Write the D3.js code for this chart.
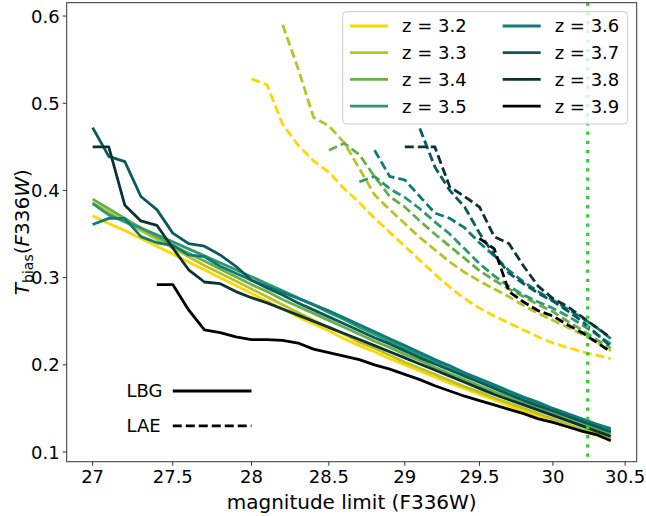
<!DOCTYPE html>
<html><head><meta charset="utf-8">
<script src="https://cdn.jsdelivr.net/npm/d3@7"></script>
<style>body{margin:0;background:#fff}svg text{font-family:"DejaVu Sans",sans-serif;fill:#000}</style>
</head><body>
<svg id="c" width="646" height="516"></svg>
<script>
// ---------------- data ----------------
const mags = [27.0,27.1,27.2,27.3,27.4,27.5,27.6,27.7,27.8,27.9,28.0,28.1,28.2,28.3,28.4,28.5,28.6,28.7,28.8,28.9,29.0,29.1,29.2,29.3,29.4,29.5,29.6,29.7,29.8,29.9,30.0,30.1,30.2,30.3,30.4];
const redshifts = ["3.2","3.3","3.4","3.5","3.6","3.7","3.8","3.9"];
const colors = ["#ffd700","#b8c326","#6aae48","#2b9870","#0d7b79","#0b5a5b","#0b3333","#000000"];

// LBG (solid)
const lbg32 = [0.371,0.362,0.354,0.345,0.336,0.327,0.318,0.309,0.300,0.291,0.282,0.273,0.264,0.255,0.247,0.239,0.230,0.222,0.215,0.207,0.200,0.193,0.186,0.179,0.173,0.166,0.160,0.153,0.147,0.141,0.136,0.130,0.124,0.119,0.114];
const lbg33 = [0.386,0.375,0.364,0.354,0.344,0.334,0.324,0.314,0.305,0.296,0.287,0.278,0.269,0.260,0.251,0.243,0.235,0.226,0.219,0.211,0.203,0.196,0.189,0.182,0.175,0.169,0.162,0.156,0.150,0.144,0.138,0.132,0.126,0.121,0.116];
const lbg34 = [0.390,0.379,0.368,0.357,0.347,0.337,0.328,0.319,0.310,0.301,0.292,0.284,0.275,0.267,0.259,0.251,0.243,0.235,0.227,0.220,0.212,0.205,0.197,0.190,0.183,0.176,0.169,0.163,0.156,0.150,0.144,0.138,0.132,0.126,0.121];
const lbg35 = [0.385,0.372,0.364,0.357,0.349,0.341,0.333,0.325,0.317,0.309,0.301,0.293,0.285,0.277,0.269,0.260,0.252,0.243,0.235,0.227,0.219,0.211,0.204,0.196,0.189,0.182,0.175,0.168,0.161,0.155,0.148,0.142,0.136,0.130,0.125];
const lbg36 = [0.361,0.368,0.368,0.347,0.340,0.337,0.326,0.324,0.313,0.305,0.297,0.290,0.283,0.276,0.269,0.262,0.254,0.246,0.238,0.230,0.222,0.214,0.206,0.199,0.191,0.184,0.177,0.170,0.163,0.157,0.150,0.144,0.138,0.132,0.127];
const lbg37 = [0.472,0.439,0.433,0.393,0.378,0.351,0.339,0.336,0.326,0.313,0.297,0.288,0.280,0.271,0.263,0.255,0.247,0.239,0.231,0.224,0.216,0.208,0.201,0.194,0.187,0.180,0.173,0.166,0.159,0.153,0.147,0.141,0.135,0.129,0.123];
const lbg38 = [0.450,0.450,0.383,0.365,0.360,0.334,0.309,0.295,0.293,0.284,0.277,0.271,0.264,0.257,0.250,0.243,0.236,0.229,0.222,0.215,0.208,0.201,0.194,0.187,0.180,0.173,0.166,0.160,0.154,0.148,0.142,0.136,0.130,0.124,0.118];
const lbg39 = [null,null,null,null,0.292,0.292,0.263,0.240,0.237,0.232,0.229,0.229,0.228,0.225,0.218,0.214,0.210,0.206,0.200,0.195,0.189,0.183,0.176,0.170,0.164,0.159,0.154,0.149,0.144,0.138,0.134,0.129,0.124,0.120,0.113];

// LAE (dashed)
const lae32 = [null,null,null,null,null,null,null,null,null,null,0.528,0.521,0.476,0.452,0.434,0.421,0.402,0.386,0.368,0.352,0.336,0.320,0.304,0.289,0.276,0.265,0.256,0.248,0.240,0.232,0.225,0.220,0.215,0.211,0.207];
const lae33 = [null,null,null,null,null,null,null,null,null,null,null,null,0.590,0.540,0.484,0.474,0.455,0.425,0.395,0.378,0.362,0.346,0.332,0.318,0.306,0.296,0.287,0.278,0.268,0.259,0.251,0.243,0.235,0.226,0.216];
const lae34 = [null,null,null,null,null,null,null,null,null,null,null,null,null,null,null,0.446,0.454,0.441,0.416,0.393,0.381,0.365,0.350,0.336,0.322,0.308,0.297,0.287,0.278,0.269,0.261,0.250,0.240,0.229,0.219];
const lae35 = [null,null,null,null,null,null,null,null,null,null,null,null,null,null,null,null,null,0.410,0.416,0.402,0.392,0.379,0.364,0.350,0.333,0.316,0.302,0.290,0.280,0.272,0.265,0.256,0.246,0.235,0.224];
const lae36 = [null,null,null,null,null,null,null,null,null,null,null,null,null,null,null,null,null,null,0.446,0.416,0.412,0.393,0.374,0.368,0.357,0.340,0.325,0.308,0.295,0.284,0.274,0.264,0.254,0.243,0.230];
const lae37 = [null,null,null,null,null,null,null,null,null,null,null,null,null,null,null,null,null,null,null,null,null,0.471,0.427,0.400,0.381,0.351,0.326,0.305,0.293,0.282,0.273,0.262,0.250,0.236,0.221];
const lae38 = [null,null,null,null,null,null,null,null,null,null,null,null,null,null,null,null,null,null,null,null,0.450,0.450,0.450,0.404,0.393,0.381,0.347,0.339,0.313,0.290,0.276,0.267,0.255,0.243,0.231];
const lae39 = [null,null,null,null,null,null,null,null,null,null,null,null,null,null,null,null,null,null,null,null,null,null,null,null,null,0.345,0.333,0.284,0.272,0.262,0.256,0.246,0.237,0.226,0.215];

const xTicks = [27,27.5,28,28.5,29,29.5,30,30.5];
const xTickLabels = ["27","27.5","28","28.5","29","29.5","30","30.5"];
const yTicks = [0.1,0.2,0.3,0.4,0.5,0.6];
const yTickLabels = ["0.1","0.2","0.3","0.4","0.5","0.6"];
const depthLimit = 30.24;

const lbgSeries = [lbg32,lbg33,lbg34,lbg35,lbg36,lbg37,lbg38,lbg39];
const laeSeries = [lae32,lae33,lae34,lae35,lae36,lae37,lae38,lae39];

// ---------------- layout ----------------
const svg = d3.select("#c");
const L = 66.7, R = 636.7, T = 2.7, B = 461.7;
const xmin = 27, xmax = 30.4;
const lr = Math.log(xmax/xmin);
const x = d3.scaleLog().domain([xmin*Math.exp(-0.05*lr), xmax*Math.exp(0.05*lr)]).range([L,R]);
const y = d3.scaleLinear().domain([0.0889,0.6153]).range([B,T]);

svg.append("clipPath").attr("id","clp").append("rect")
  .attr("x",L).attr("y",T).attr("width",R-L).attr("height",B-T);

const plot = svg.append("g").attr("clip-path","url(#clp)");
const line = d3.line().defined(d=>d[1]!=null).x(d=>x(d[0])).y(d=>y(d[1]));
const LW = 2.8;

redshifts.forEach((z,i)=>{
  plot.append("path").datum(mags.map((m,k)=>[m,lbgSeries[i][k]]))
    .attr("d",line).attr("fill","none").attr("stroke",colors[i])
    .attr("stroke-width",LW).attr("stroke-linejoin","round");
  plot.append("path").datum(mags.map((m,k)=>[m,laeSeries[i][k]]))
    .attr("d",line).attr("fill","none").attr("stroke",colors[i])
    .attr("stroke-width",LW).attr("stroke-dasharray","9,4");
});

// depth limit
plot.append("line").attr("x1",x(depthLimit)).attr("x2",x(depthLimit))
  .attr("y1",T).attr("y2",B).attr("stroke","#33cc33").attr("stroke-width",3.3)
  .attr("stroke-dasharray","3.3,5.9");

// LBG / LAE annotation
const ann = [["LBG",0.17,null],["LAE",0.13,"9,4"]];
ann.forEach(a=>{
  svg.append("text").attr("x",x(27.21)).attr("y",y(a[1])).attr("dy","0.36em")
    .attr("font-size",18).text(a[0]);
  svg.append("line").attr("x1",x(27.5)).attr("x2",x(28.0))
    .attr("y1",y(a[1])).attr("y2",y(a[1])).attr("stroke","#000")
    .attr("stroke-width",LW).attr("stroke-dasharray",a[2]);
});

// axes frame
svg.append("rect").attr("x",L).attr("y",T).attr("width",R-L).attr("height",B-T)
  .attr("fill","none").attr("stroke","#333").attr("stroke-width",1);

// x ticks
xTicks.forEach((t,i)=>{
  svg.append("line").attr("x1",x(t)).attr("x2",x(t)).attr("y1",B).attr("y2",B+4)
    .attr("stroke","#333");
  svg.append("text").attr("x",x(t)).attr("y",B+21).attr("text-anchor","middle")
    .attr("font-size",18).text(xTickLabels[i]);
});
// y ticks
yTicks.forEach((t,i)=>{
  svg.append("line").attr("x1",L-4).attr("x2",L).attr("y1",y(t)).attr("y2",y(t))
    .attr("stroke","#333");
  svg.append("text").attr("x",L-7).attr("y",y(t)).attr("dy","0.36em").attr("text-anchor","end")
    .attr("font-size",18).text(yTickLabels[i]);
});

// axis labels
svg.append("text").attr("x",(L+R)/2).attr("y",509).attr("text-anchor","middle")
  .attr("font-size",20).text("magnitude limit (F336W)");
const yl = svg.append("text").attr("transform",`translate(29,${(T+B)/2}) rotate(-90)`)
  .attr("text-anchor","middle").attr("font-size",20);
yl.append("tspan").attr("font-style","italic").text("T");
yl.append("tspan").attr("font-size",14).attr("dy",4).text("bias");
yl.append("tspan").attr("dy",-4).text("(");
yl.append("tspan").attr("font-style","italic").text("F");
yl.append("tspan").text("336");
yl.append("tspan").attr("font-style","italic").text("W");
yl.append("tspan").text(")");

// legend
const lg = svg.append("g");
lg.append("rect").attr("x",342.7).attr("y",11.7).attr("width",285).attr("height",112.3)
  .attr("rx",4).attr("fill","#fff").attr("fill-opacity",0.8).attr("stroke","#cccccc");
redshifts.forEach((z,i)=>{
  const col = Math.floor(i/4), row = i%4;
  const lx = col===0 ? 350 : 502.7;
  const ly = 26 + row*26.7;
  lg.append("line").attr("x1",lx).attr("x2",lx+38).attr("y1",ly).attr("y2",ly)
    .attr("stroke",colors[i]).attr("stroke-width",LW);
  lg.append("text").attr("x",lx+52).attr("y",ly).attr("dy","0.36em")
    .attr("font-size",18).text("z = "+z);
});
</script>
</body></html>
